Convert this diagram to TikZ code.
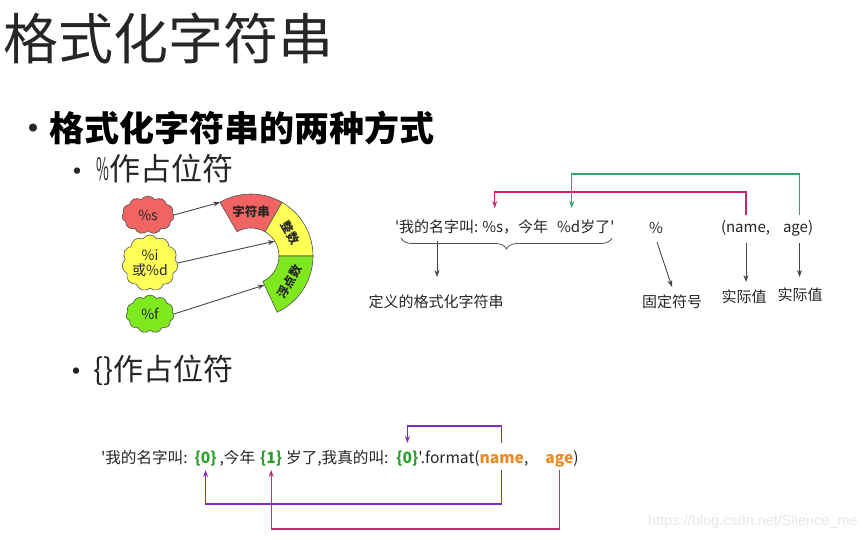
\documentclass[tikz,border=0pt]{standalone}
\usepackage{fontspec}
\setmainfont[Ligatures=TeXOff]{Noto Sans CJK SC}
\newfontfamily\wmfont{Liberation Sans}
\usetikzlibrary{shapes.symbols,arrows.meta,decorations.pathreplacing}
\definecolor{cloudred}{HTML}{F06464}
\definecolor{cloudyel}{HTML}{FFFF55}
\definecolor{cloudgrn}{HTML}{80E81E}
\definecolor{pinkc}{HTML}{D81B6A}
\definecolor{greenc}{HTML}{2EA56A}
\definecolor{purpc}{HTML}{7E2EC4}
\definecolor{pinkb}{HTML}{B8326E}
\definecolor{grntxt}{HTML}{2E9E2E}
\definecolor{orgtxt}{HTML}{F08A24}
\definecolor{ink}{HTML}{262626}
\newcommand\gap[1]{\hspace*{#1}\null}
\begin{document}
\begin{tikzpicture}[x=1pt,y=1pt,
  txt/.style={inner sep=0pt, outer sep=0pt, text=ink, font=\fontsize{15}{18}\selectfont},
  btxt/.style={inner sep=0pt, outer sep=0pt, text=ink, font=\fontsize{15.6}{19}\selectfont},
  arr/.style={draw=ink!85, line width=0.9pt, -{Stealth[length=7pt,width=5pt]}},
  conn/.style={line width=1.1pt, -{Stealth[length=7pt,width=5pt]}},
  cloudbox/.style={cloud, cloud puffs=11, cloud puff arc=115, draw=ink!80, line width=0.6pt, inner sep=0pt, text=ink, font=\fontsize{14}{15}\selectfont, align=center},
  seg/.style={draw=ink!80, line width=0.6pt},
  seglbl/.style={inner sep=0pt, text=ink, font=\bfseries\fontsize{12}{13}\selectfont}
]
\fill[white] (0,0) rectangle (867,-540);
\useasboundingbox (0,0) rectangle (867,-540);

% headings
\node[anchor=west, inner sep=0pt, text=ink, font=\fontsize{55}{60}\selectfont] (title) at (3,-38) {格式化字符串};
\node[inner sep=0pt, text=ink, font=\fontsize{38}{40}\selectfont] (bul1) at (33,-133) {•};
\node[anchor=west, inner sep=0pt, text=black, font=\bfseries\fontsize{35}{40}\selectfont] (h1) at (49,-128) {格式化字符串的两种方式};
\node[inner sep=0pt, text=ink, font=\fontsize{30}{32}\selectfont] (bul2) at (77,-175) {•};
\node[anchor=west, inner sep=0pt, text=ink, font=\fontsize{31}{32}\selectfont] (h2) at (96,-169) {\scalebox{0.45}[1]{\%}作占位符};
\node[inner sep=0pt, text=ink, font=\fontsize{30}{32}\selectfont] (bul3) at (76,-375) {•};
\node[anchor=west, inner sep=0pt, text=ink, font=\fontsize{30}{32}\selectfont] (h3) at (93,-370) {\{\}作占位符};

% clouds
\node[cloudbox, fill=cloudred, minimum width=52pt, minimum height=38pt] (c1) at (148,-215) {\%s};
\node[cloudbox, fill=cloudyel, minimum width=48pt, minimum height=48pt] (c2) at (150,-263) {\%i\\或\%d};
\node[cloudbox, fill=cloudgrn, minimum width=48pt, minimum height=38pt] (c3) at (150,-314) {\%f};

% arc segments
\coordinate (C) at (251,-256);
\def\ri{28}
\def\ro{62}
\filldraw[seg, fill=cloudred] ([shift={(60:\ro)}]C) arc[start angle=60, end angle=120, radius=\ro] -- ([shift={(120:\ri)}]C) arc[start angle=120, end angle=60, radius=\ri] -- cycle;
\filldraw[seg, fill=cloudyel] ([shift={(0:\ro)}]C) arc[start angle=0, end angle=60, radius=\ro] -- ([shift={(60:\ri)}]C) arc[start angle=60, end angle=0, radius=\ri] -- cycle;
\filldraw[seg, fill=cloudgrn] ([shift={(-65:\ro)}]C) arc[start angle=-65, end angle=0, radius=\ro] -- ([shift={(0:\ri)}]C) arc[start angle=0, end angle=-65, radius=\ri] -- cycle;
\node[seglbl, font=\bfseries\fontsize{12.5}{13}\selectfont] (l1) at ([shift={(90:44)}]C) {字符串};
\node[seglbl, rotate=-60] (l2) at ([shift={(30:46)}]C) {整数};
\node[seglbl, rotate=60] (l3) at ([shift={(-34:46)}]C) {浮点数};
\coordinate (tRed) at ([shift={(120:\ro)}]C);
\coordinate (tYel) at ([shift={(32:\ri)}]C);
\coordinate (tGrn) at ([shift={(-65:32)}]C);
\draw[arr] (c1.east) -- (tRed);
\draw[arr] (c2.east) -- (tYel);
\draw[arr] (c3.east) -- (tGrn);

% top-right string
\node[txt, anchor=west] (s1) at (395,-227) {'我的名字叫:\gap{4pt}};
\node[txt, anchor=base west] (s2) at (s1.base east) {\%s};
\node[txt, anchor=base west] (s3) at (s2.base east) {，今年\gap{9pt}};
\node[txt, anchor=base west] (s4) at (s3.base east) {\%d};
\node[txt, anchor=base west] (s5) at (s4.base east) {岁了'};
\node[txt] (pc) at (656,-228) {\%};
\node[txt, anchor=west] (lp) at (721,-228) {(};
\node[txt, anchor=base west] (nm) at (lp.base east) {name};
\node[txt, anchor=base west] (cm) at (nm.base east) {,\gap{13pt}};
\node[txt, anchor=base west] (ag) at (cm.base east) {age};
\node[txt, anchor=base west] (rp) at (ag.base east) {)};

\node[txt] (d1) at (436,-302) {定义的格式化字符串};
\node[txt] (d2) at (672,-302) {固定符号};
\node[txt] (d3) at (744,-297) {实际值};
\node[txt] (d4) at (800,-295) {实际值};

\coordinate (bl) at (401,-238);
\coordinate (br) at (612,-238);
\draw[decorate, decoration={brace, mirror, amplitude=11pt}, draw=ink!80, line width=0.8pt] (bl) -- (br);
\coordinate (bs) at (437,-241);
\draw[arr] (bs) -- (437,-277);
\coordinate (pcs) at (657,-242);
\draw[arr] (pcs) -- ([yshift=8pt]d2.north);
\coordinate (lvA) at (0,-243);
\coordinate (lvN) at (0,-282);
\coordinate (lvG) at (0,-277);
\draw[arr] (nm |- lvA) -- (nm |- lvN);
\coordinate (agx) at ([xshift=4pt]ag.center);
\draw[arr] (agx |- lvA) -- (agx |- lvG);

\coordinate (lvTop) at (0,-215);
\coordinate (lvEnd) at (0,-208);
\coordinate (lvPk) at (0,-192);
\coordinate (lvGr) at (0,-174);
\draw[conn, draw=pinkc] (nm |- lvTop) -- (nm |- lvPk) -| ([xshift=2pt]s2.center |- lvEnd);
\draw[conn, draw=greenc] (agx |- lvTop) -- (agx |- lvGr) -| ([xshift=3pt]s4.center |- lvEnd);

% bottom line
\node[btxt, anchor=west] (b1) at (101,-458) {'我的名字叫:\gap{7pt}};
\node[btxt, anchor=base west] (b2) at (b1.base east) {\textcolor{grntxt}{\bfseries\{0\}}};
\node[btxt, anchor=base west] (b3) at (b2.base east) {\gap{3pt},今年\gap{5pt}};
\node[btxt, anchor=base west] (b4) at (b3.base east) {\textcolor{grntxt}{\bfseries\{1\}}};
\node[btxt, anchor=base west] (b5) at (b4.base east) {\gap{4pt}岁了,我真的叫:\gap{8pt}};
\node[btxt, anchor=base west] (b6) at (b5.base east) {\textcolor{grntxt}{\bfseries\{0\}}};
\node[btxt, anchor=base west] (b7) at (b6.base east) {'.format(};
\node[btxt, anchor=base west] (b8) at (b7.base east) {\textcolor{orgtxt}{\bfseries name}};
\node[btxt, anchor=base west] (b9) at (b8.base east) {,\gap{17pt}};
\node[btxt, anchor=base west] (b10) at (b9.base east) {\textcolor{orgtxt}{\bfseries age}};
\node[btxt, anchor=base west] (b11) at (b10.base east) {)};

\coordinate (yT) at (0,-443);
\coordinate (yB) at (0,-470);
\coordinate (yP1) at (0,-426);
\coordinate (yP2) at (0,-504);
\coordinate (yK) at (0,-529);
\draw[conn, draw=purpc] (b8 |- yT) -- (b8 |- yP1) -| (b6 |- yT);
\draw[conn, draw=purpc] (b8 |- yB) -- (b8 |- yP2) -| (b2 |- yB);
\draw[conn, draw=pinkb] (b10 |- yB) -- (b10 |- yK) -| (b4 |- yB);

\node[anchor=east, inner sep=0pt, text=black!9, font=\wmfont\fontsize{14.5}{16}\selectfont] (wm) at (858,-522) {https://blog.csdn.net/Slience\_me};
\end{tikzpicture}
\end{document}
